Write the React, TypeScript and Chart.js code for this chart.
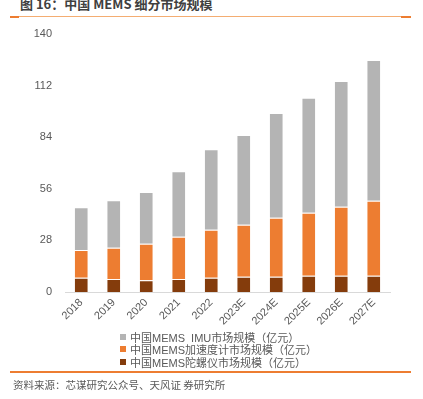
import React, { useEffect, useRef } from "react";
import { Chart, registerables } from "chart.js";

Chart.register(...registerables);

const categories = ["2018", "2019", "2020", "2021", "2022", "2023E", "2024E", "2025E", "2026E", "2027E"];
const gyroValues = [7.8, 7.1, 6.4, 7.1, 7.8, 8.3, 8.3, 8.8, 8.8, 8.8];
const accelValues = [15.0, 16.9, 19.8, 22.9, 26.0, 28.2, 32.0, 34.2, 37.5, 40.7];
const imuValues = [23.2, 25.8, 28.1, 35.5, 43.6, 48.7, 56.8, 62.4, 68.2, 76.4];
const yTicks = [0, 28, 56, 84, 112, 140];

const seriesNames = {
  imu: "中国MEMS  IMU市场规模（亿元）",
  accel: "中国MEMS加速度计市场规模（亿元）",
  gyro: "中国MEMS陀螺仪市场规模（亿元）",
};

const COLORS = { imu: "#B4B4B4", accel: "#ED7D31", gyro: "#843C0C" };
const TEXT = "#595959";
const FONT = "'Liberation Sans', Arial, 'Noto Sans CJK SC', sans-serif";

export default function App() {
  const ref = useRef<HTMLCanvasElement | null>(null);

  useEffect(() => {
    document.body.style.margin = "0";
    const canvas = ref.current!;
    const edge = "rgba(255,255,255,0.45)";
    const chart = new Chart(canvas, {
      type: "bar",
      data: {
        labels: categories,
        datasets: [
          { label: seriesNames.gyro, data: gyroValues, backgroundColor: COLORS.gyro, borderColor: edge, borderWidth: { top: 1 } as any, borderSkipped: false },
          { label: seriesNames.accel, data: accelValues, backgroundColor: COLORS.accel, borderColor: edge, borderWidth: { top: 1 } as any, borderSkipped: false },
          { label: seriesNames.imu, data: imuValues, backgroundColor: COLORS.imu, borderColor: edge, borderWidth: { top: 1 } as any, borderSkipped: false },
        ],
      },
      options: {
        responsive: false,
        animation: false,
        devicePixelRatio: 1,
        layout: { padding: { top: 34, left: 0, right: 33, bottom: 0 } },
        datasets: { bar: { barPercentage: 0.5, categoryPercentage: 0.8 } },
        plugins: { legend: { display: false }, tooltip: { enabled: false }, title: { display: false } },
        scales: {
          x: {
            stacked: true,
            grid: { display: false, drawTicks: false },
            border: { display: true, color: "#D9D9D9", width: 1 },
            ticks: {
              autoSkip: false,
              minRotation: 45,
              maxRotation: 45,
              padding: 4,
              color: TEXT,
              font: { family: FONT, size: 11 },
            },
            afterFit: (s: any) => {
              s.height = 107;
            },
          },
          y: {
            stacked: true,
            min: 0,
            max: 140,
            afterBuildTicks: (s: any) => {
              s.ticks = yTicks.map((v) => ({ value: v }));
            },
            grid: { display: false, drawTicks: false },
            border: { display: false },
            ticks: { padding: 13, color: TEXT, font: { family: FONT, size: 11 } },
            afterFit: (s: any) => {
              s.width = 65;
            },
          },
        },
      },
    });
    return () => chart.destroy();
  }, []);

  const legendItems = [
    { name: seriesNames.imu, color: COLORS.imu },
    { name: seriesNames.accel, color: COLORS.accel },
    { name: seriesNames.gyro, color: COLORS.gyro },
  ];

  return (
    <div style={{ position: "fixed", left: 0, top: 0, width: 423, height: 399, background: "#fff", overflow: "hidden", fontFamily: FONT }}>
      <div
        style={{
          position: "absolute",
          left: 20,
          top: -5,
          fontSize: 13,
          lineHeight: "18px",
          fontWeight: "bold",
          color: "#404040",
          whiteSpace: "nowrap",
          fontFamily: "'Noto Sans CJK SC', 'Liberation Sans', sans-serif",
        }}
      >
        图 16：中国 MEMS 细分市场规模
      </div>
      <div style={{ position: "absolute", left: 10, top: 16, width: 401, height: 1, background: "#F4AD72" }} />
      <div style={{ position: "absolute", left: 10, top: 16, width: 9, height: 2, background: "#ED7D31" }} />
      <div style={{ position: "absolute", left: 401, top: 16, width: 10, height: 2, background: "#ED7D31" }} />
      <canvas ref={ref} width={423} height={399} style={{ position: "absolute", left: 0, top: 0, width: 423, height: 399 }} />
      <div style={{ position: "absolute", left: 120, top: 331 }}>
        {legendItems.map((it) => (
          <div key={it.name} style={{ display: "flex", alignItems: "center", height: 12.3, fontSize: 11, color: TEXT, whiteSpace: "pre" }}>
            <span style={{ display: "inline-block", width: 6, height: 6, background: it.color, marginRight: 4 }} />
            <span>{it.name}</span>
          </div>
        ))}
      </div>
      <div style={{ position: "absolute", left: 10, top: 371, width: 401, height: 2, background: "#ED7D31" }} />
      <div
        style={{
          position: "absolute",
          left: 13,
          top: 378,
          fontSize: 10.5,
          lineHeight: "14px",
          color: TEXT,
          whiteSpace: "pre",
          fontFamily: "'Noto Sans CJK SC', sans-serif",
        }}
      >
        资料来源：芯谋研究公众号、天风证 券研究所
      </div>
    </div>
  );
}
